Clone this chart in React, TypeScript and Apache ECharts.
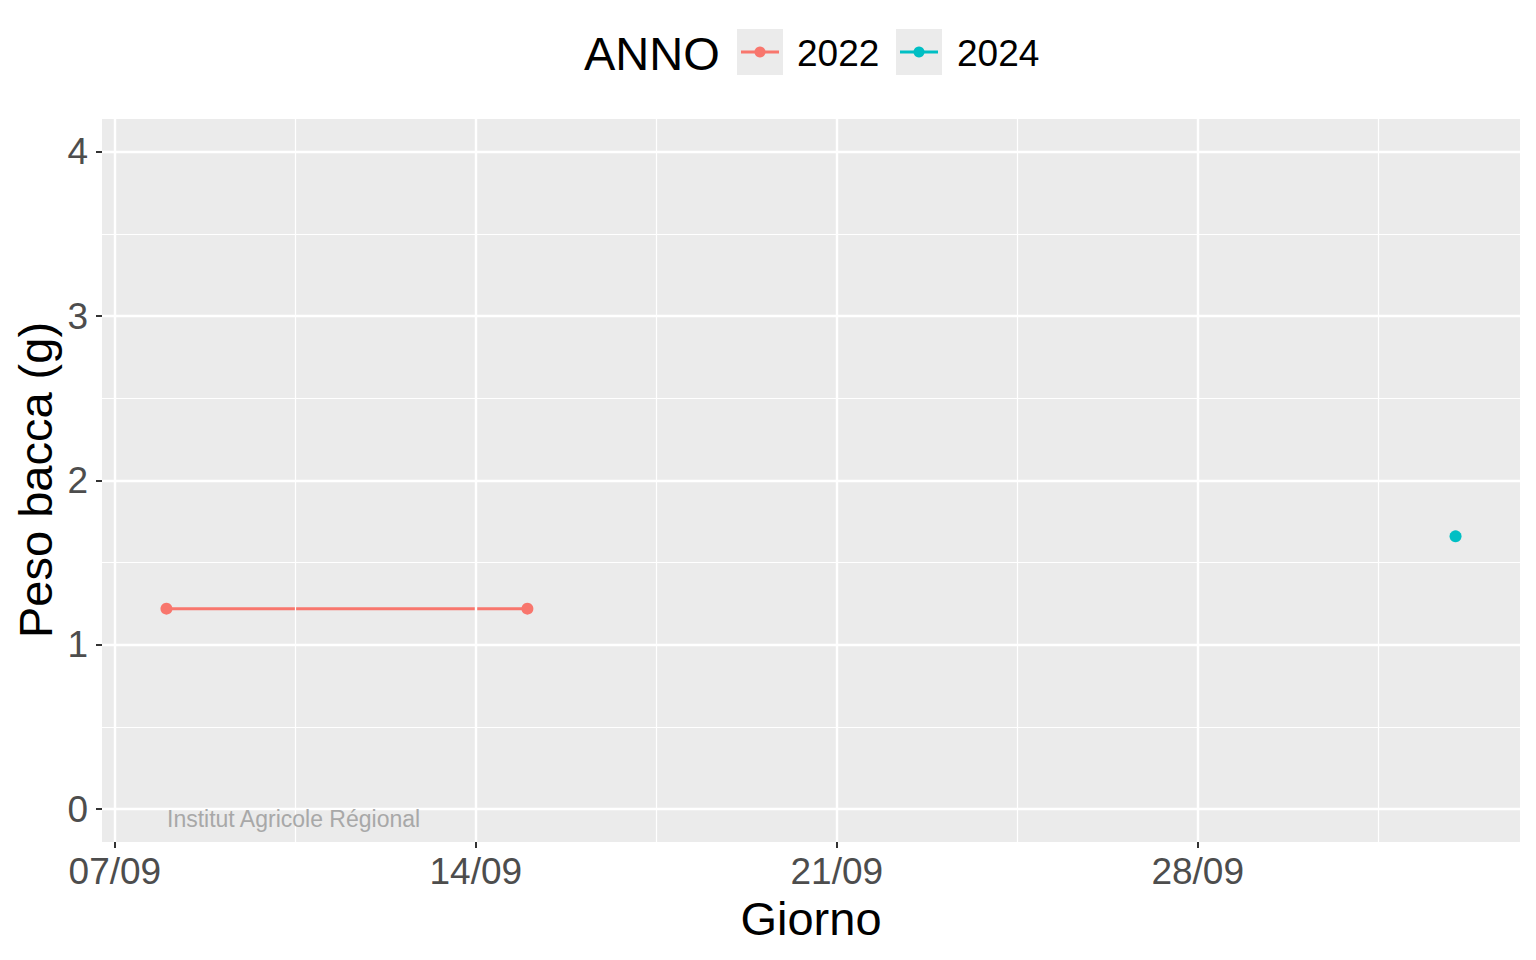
import React, { useEffect, useRef } from "react";
import * as echarts from "echarts";

const years = ["2022", "2024"];
const colors = ["#F8766D", "#00BFC4"];
const dates2022 = ["2022-09-08", "2022-09-15"];
const weights2022 = [1.22, 1.22];
const dates2024 = ["2024-10-03"];
const weights2024 = [1.66];
const xTickDays = [0, 7, 14, 21];
const xTickLabels = ["07/09", "14/09", "21/09", "28/09"];
const xMinorDays = [3.5, 10.5, 17.5, 24.5];
const yTicks = [0, 1, 2, 3, 4];
const yMinor = [0.5, 1.5, 2.5, 3.5];

const FONT = "'Liberation Sans', Arial, Helvetica, sans-serif";

function dayOffset(d: string): number {
  const [y, m, dd] = d.split("-").map(Number);
  return (Date.UTC(y, m - 1, dd) - Date.UTC(y, 8, 7)) / 86400000;
}

export default function App() {
  const ref = useRef<HTMLDivElement>(null);
  useEffect(() => {
    if (!ref.current) return;
    const chart = echarts.init(ref.current, undefined, { renderer: "svg" });

    const gridLines = [
      ...xTickDays.map((v) => ({ xAxis: v, lineStyle: { width: 2.4, color: "#FFFFFF", type: "solid" } })),
      ...xMinorDays.map((v) => ({ xAxis: v, lineStyle: { width: 1.2, color: "#FFFFFF", type: "solid" } })),
      ...yTicks.map((v) => ({ yAxis: v, lineStyle: { width: 2.4, color: "#FFFFFF", type: "solid" } })),
      ...yMinor.map((v) => ({ yAxis: v, lineStyle: { width: 1.2, color: "#FFFFFF", type: "solid" } })),
    ];

    const seriesData = [
      dates2022.map((d, i) => [dayOffset(d), weights2022[i]]),
      dates2024.map((d, i) => [dayOffset(d), weights2024[i]]),
    ];

    const legendKeysX = [737, 896];
    const legendTextX = [797, 957];
    const legendGraphics: any[] = [
      {
        type: "text",
        x: 584,
        y: 53,
        style: { text: "ANNO", fill: "#000", font: `47px ${FONT}`, textVerticalAlign: "middle", textAlign: "left" },
      },
    ];
    years.forEach((yr, i) => {
      const kx = legendKeysX[i];
      legendGraphics.push(
        { type: "rect", shape: { x: kx, y: 29, width: 46, height: 46 }, style: { fill: "#EBEBEB" } },
        { type: "line", shape: { x1: kx + 4, y1: 52, x2: kx + 42, y2: 52 }, style: { stroke: colors[i], lineWidth: 3 } },
        { type: "circle", shape: { cx: kx + 23, cy: 52, r: 5.5 }, style: { fill: colors[i] } },
        {
          type: "text",
          x: legendTextX[i],
          y: 53,
          style: { text: yr, fill: "#000", font: `37px ${FONT}`, textVerticalAlign: "middle", textAlign: "left" },
        }
      );
    });

    const tickStyle = { show: true, length: 6, inside: false, lineStyle: { color: "#333333", width: 2 } };
    const hiddenLine = { show: true, onZero: false, lineStyle: { color: "rgba(0,0,0,0)", width: 0 } };

    const option: any = {
      animation: false,
      textStyle: { fontFamily: FONT },
      grid: {
        left: 102,
        right: 16,
        top: 119,
        bottom: 118,
        show: true,
        backgroundColor: "#EBEBEB",
        borderWidth: 0,
        containLabel: false,
      },
      xAxis: {
        type: "value",
        min: -0.25,
        max: 27.25,
        axisLine: hiddenLine,
        splitLine: { show: false },
        axisTick: { ...tickStyle, customValues: xTickDays },
        axisLabel: {
          show: true,
          customValues: xTickDays,
          margin: 11,
          color: "#4D4D4D",
          fontSize: 37,
          fontFamily: FONT,
          formatter: (v: number) => {
            const idx = xTickDays.indexOf(v);
            return idx >= 0 ? xTickLabels[idx] : "";
          },
        },
      },
      yAxis: {
        type: "value",
        min: -0.2,
        max: 4.2,
        axisLine: hiddenLine,
        splitLine: { show: false },
        axisTick: { ...tickStyle, customValues: yTicks },
        axisLabel: {
          show: true,
          customValues: yTicks,
          margin: 14,
          color: "#4D4D4D",
          fontSize: 37,
          fontFamily: FONT,
          formatter: (v: number) => String(v),
        },
      },
      series: [
        {
          type: "line",
          name: "grid",
          data: [],
          z: 1,
          silent: true,
          markLine: {
            silent: true,
            symbol: ["none", "none"],
            label: { show: false },
            emphasis: { disabled: true },
            lineStyle: { color: "#FFFFFF", type: "solid" },
            data: gridLines,
          },
        },
        ...years.map((yr, i) => ({
          type: "line",
          name: yr,
          data: seriesData[i],
          z: 3,
          symbol: "circle",
          symbolSize: 12,
          showSymbol: true,
          itemStyle: { color: colors[i] },
          lineStyle: { color: colors[i], width: 3 },
          emphasis: { disabled: true },
        })),
      ],
      graphic: [
        ...legendGraphics,
        {
          type: "text",
          x: 811,
          y: 918,
          style: { text: "Giorno", fill: "#000", font: `47px ${FONT}`, textAlign: "center", textVerticalAlign: "middle" },
        },
        {
          type: "text",
          x: 35,
          y: 480,
          rotation: Math.PI / 2,
          style: { text: "Peso bacca (g)", fill: "#000", font: `47px ${FONT}`, textAlign: "center", textVerticalAlign: "middle" },
        },
        {
          type: "text",
          x: 167,
          y: 819,
          z: 10,
          style: { text: "Institut Agricole Régional", fill: "#A8A8A8", font: `23px ${FONT}`, textAlign: "left", textVerticalAlign: "middle" },
        },
      ],
    };
    chart.setOption(option);
    return () => chart.dispose();
  }, []);
  return (
    <div
      ref={ref}
      style={{ position: "absolute", left: 0, top: 0, width: 1536, height: 960 }}
    />
  );
}
